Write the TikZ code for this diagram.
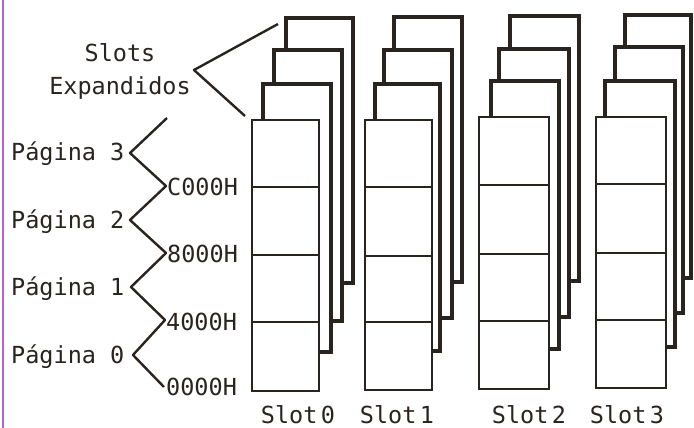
\documentclass[tikz,border=0pt]{standalone}
\usepackage{fontspec}
\newfontfamily\lblfont{DejaVu Sans Mono}
\definecolor{ink}{HTML}{2A2420}
\definecolor{edge}{HTML}{B466C8}
\tikzset{
  lbl/.style={font=\lblfont\fontsize{23.5}{28}\selectfont, text=ink, inner sep=0pt},
  backsheet/.style={draw=ink, line width=3.2pt, fill=white},
  frontsheet/.style={draw=ink, line width=2.4pt, fill=white},
  divider/.style={draw=ink, line width=1.6pt},
  bracket/.style={draw=ink, line width=2.4pt, line join=round}
}
\begin{document}
\begin{tikzpicture}[x=1pt,y=-1pt]
\useasboundingbox (0,0) rectangle (694,428);
\fill[white] (0,0) rectangle (694,428);
\draw[edge, line width=2pt] (3,0) -- (3,428);

% back sheets (farthest first)
\foreach \l/\t/\r/\b in {
  286/18/353/283, 274/50/342/321, 263/84/331/352,
  394/17/462/282, 384/50/452/318, 375/84/440/351,
  510/16/579/281, 499/49/569/317, 491/81/559/349,
  625/15/691/278, 615/47/683/313, 605/81/675/347}
  \draw[backsheet] (\l,\t) rectangle (\r,\b);

% front sheets with page dividers
\foreach \l/\t/\r/\b/\da/\db/\dc in {
  252/120/319/391/187/255/322,
  365/120/432/390/187/256/322,
  479/117/549/389/185/254/321,
  596/117/666/388/184/253/320}
{
  \draw[frontsheet] (\l,\t) rectangle (\r,\b);
  \draw[divider] (\l,\da) -- (\r,\da);
  \draw[divider] (\l,\db) -- (\r,\db);
  \draw[divider] (\l,\dc) -- (\r,\dc);
}

% labels
\node[lbl, anchor=base] (slots) at (120,62) {Slots};
\node[lbl, anchor=base] (expand) at (120,95) {Expandidos};

\node[lbl, anchor=base west] (p3) at (11,160) {Página 3};
\node[lbl, anchor=base west] (p2) at (11,228) {Página 2};
\node[lbl, anchor=base west] (p1) at (11,295) {Página 1};
\node[lbl, anchor=base west] (p0) at (11,363) {Página 0};

\node[lbl, anchor=base west] (hc) at (167,195) {C000H};
\node[lbl, anchor=base west] (h8) at (167,262) {8000H};
\node[lbl, anchor=base west] (h4) at (166,330) {4000H};
\node[lbl, anchor=base west] (h0) at (166,395) {0000H};

\node[lbl, anchor=base] (s0) at (298,423) {Slot\hspace{0.15em}0};
\node[lbl, anchor=base] (s1) at (397,423) {Slot\hspace{0.15em}1};
\node[lbl, anchor=base] (s2) at (529,423) {Slot\hspace{0.15em}2};
\node[lbl, anchor=base] (s3) at (627,423) {Slot\hspace{0.15em}3};

% brackets
\coordinate (eu) at (278,24);
\coordinate (ev) at (194,70);
\coordinate (el) at (245,116);
\draw[bracket] (eu) -- (ev) -- (el);

\draw[bracket] (167,118) -- (130,153) -- (166,186) -- (130,220) -- (166,253)
  -- (131,287) -- (165,320) -- (133,355) -- (164,387);
\end{tikzpicture}
\end{document}
